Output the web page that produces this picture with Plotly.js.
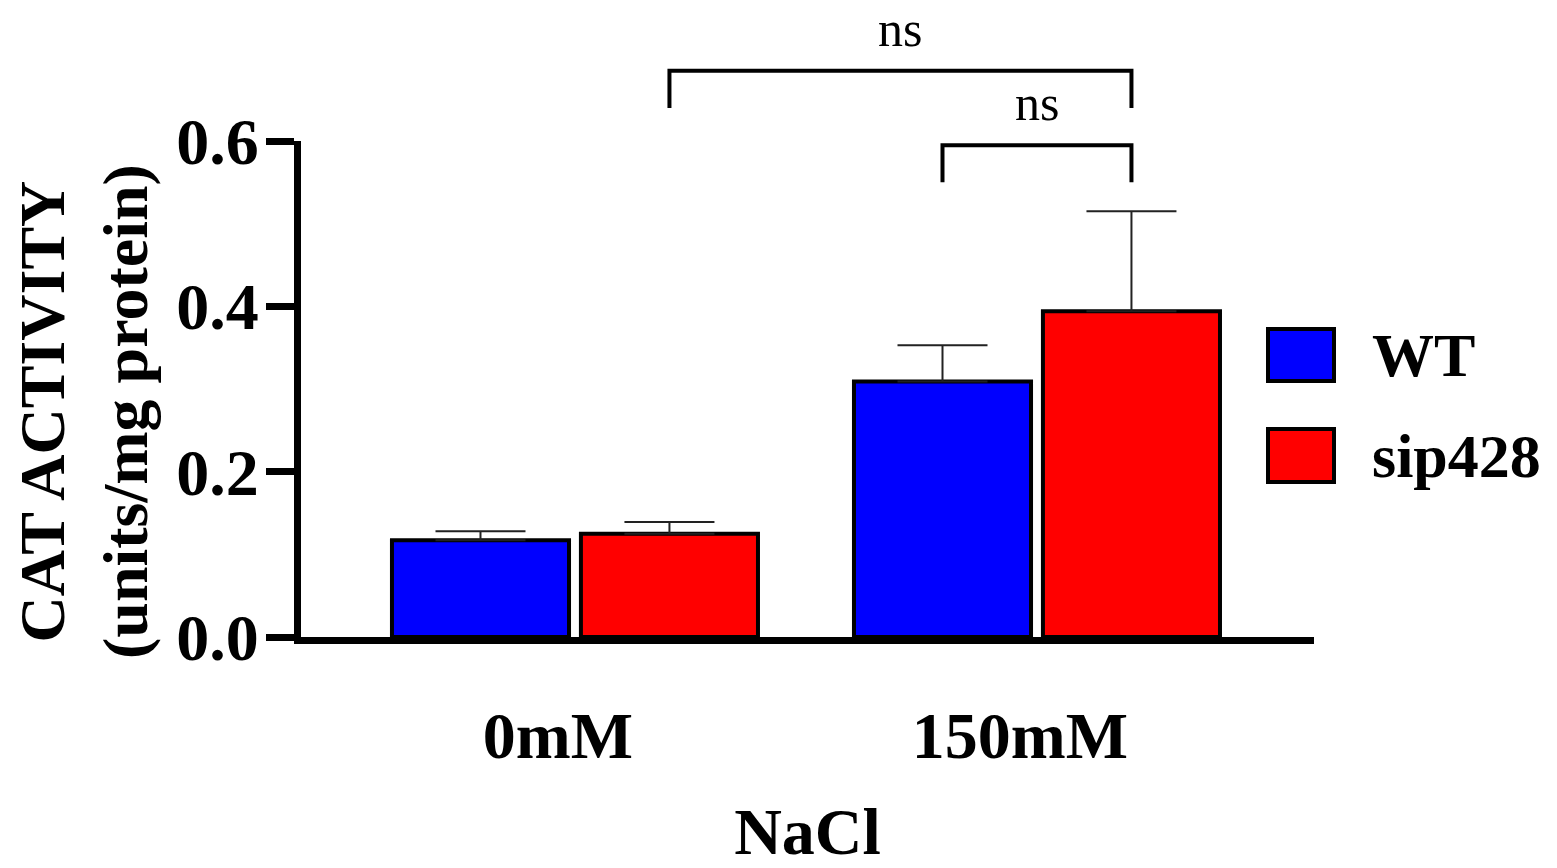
<!DOCTYPE html>
<html><head><meta charset="utf-8">
<script src="https://cdn.plot.ly/plotly-3.0.1.min.js"></script>
<style>html,body{margin:0;padding:0;background:#fff;}#chart{width:1557px;height:868px;}</style>
</head><body><div id="chart"></div>
<script>
// ---- data ----
const categories = ['0mM', '150mM'];
const seriesNames = ['WT', 'sip428'];
const seriesColors = ['#0000FF', '#FF0000'];
const wtMeans = [0.117, 0.309];
const wtSem = [0.011, 0.044];
const sip428Means = [0.125, 0.394];
const sip428Sem = [0.014, 0.121];
const yTickVals = [0, 0.2, 0.4, 0.6];
const yTickText = ['0.0', '0.2', '0.4', '0.6'];
const xTitle = 'NaCl';
const yTitle = 'CAT ACTIVITY<br>(units/mg protein)';
// significance comparisons: [category, series] pairs
const cmpFrom = [[0, 1], [1, 0]];
const cmpTo = [[1, 1], [1, 1]];
const cmpLabel = ['ns', 'ns'];
const cmpLevel = [0.685, 0.595];

// ---- layout constants ----
const W = 1557, H = 868;
const M = {l: 301, r: 243, t: 141, b: 231};
const XR = [-0.593, 1.5996], YR = [0, 0.6];
const BARGAP = 0.182, GROUPGAP = 0.063;
const FONT = 'Liberation Serif, Times New Roman, serif';
const plotW = W - M.l - M.r, plotH = H - M.t - M.b;
const slot = (1 - BARGAP) / seriesNames.length;
const xOf = (cat, s) => cat + (s - (seriesNames.length - 1) / 2) * slot;
const xp = x => (x - XR[0]) / (XR[1] - XR[0]);
const yp = y => (y - YR[0]) / (YR[1] - YR[0]);
const pxX = px => (px - M.l) / plotW;
const pxY = py => (H - M.b - py) / plotH;

const means = [wtMeans, sip428Means];
const sems = [wtSem, sip428Sem];

const traces = seriesNames.map((name, s) => ({
  type: 'bar', name: name, x: categories, y: means[s],
  marker: {color: seriesColors[s], line: {color: '#000', width: 4}},
  error_y: {type: 'data', symmetric: false, array: sems[s], arrayminus: sems[s].map(() => 0),
            color: '#222', thickness: 2, width: 45},
  showlegend: false, hoverinfo: 'skip'
}));

const shapes = [];
const annotations = [];
const drop = 0.045;
cmpFrom.forEach((f, i) => {
  const x0 = xp(xOf(f[0], f[1])), x1 = xp(xOf(cmpTo[i][0], cmpTo[i][1]));
  const yt = yp(cmpLevel[i]), yb = yp(cmpLevel[i] - drop);
  shapes.push({type: 'path', xref: 'paper', yref: 'paper',
    path: `M${x0},${yb} L${x0},${yt} L${x1},${yt} L${x1},${yb}`,
    line: {color: '#000', width: 4}});
  annotations.push({xref: 'paper', yref: 'paper', x: (x0 + x1) / 2, y: yt, yanchor: 'bottom', xanchor: 'center',
    yshift: 13, borderpad: 0, showarrow: false, text: cmpLabel[i], font: {family: FONT, size: 50, color: '#000'}});
});

// legend drawn as boxes + labels
const legBoxes = [[1268, 1334, 329, 381], [1268, 1334, 429, 482]];
seriesNames.forEach((name, s) => {
  const b = legBoxes[s];
  shapes.push({type: 'rect', xref: 'paper', yref: 'paper', x0: pxX(b[0]), x1: pxX(b[1]), y0: pxY(b[3]), y1: pxY(b[2]),
    fillcolor: seriesColors[s], line: {color: '#000', width: 4}});
  annotations.push({xref: 'paper', yref: 'paper', x: pxX(1370), y: pxY((b[2] + b[3]) / 2), xanchor: 'left', yanchor: 'middle',
    showarrow: false, text: name, font: {family: FONT, size: 62, weight: 700, color: '#000'}});
});

annotations.push({xref: 'paper', yref: 'paper', x: pxX(84), y: pxY(412), xanchor: 'center', yanchor: 'middle',
  textangle: -90, showarrow: false, text: yTitle, font: {family: FONT, size: 64, weight: 700, color: '#000'}});

const layout = {
  width: W, height: H, margin: M,
  paper_bgcolor: '#fff', plot_bgcolor: '#fff',
  barmode: 'group', bargap: BARGAP, bargroupgap: GROUPGAP,
  showlegend: false,
  font: {family: FONT, color: '#000'},
  xaxis: {type: 'category', range: XR, showline: true, linewidth: 7, linecolor: '#000', ticks: '',
    showgrid: false, zeroline: false, automargin: false, ticklabelstandoff: 35, ticklabelshift: -17,
    tickfont: {family: FONT, size: 66, weight: 700, color: '#000'},
    title: {text: xTitle, standoff: 55, font: {family: FONT, size: 66, weight: 700, color: '#000'}}},
  yaxis: {range: YR, showline: true, linewidth: 7, linecolor: '#000', ticks: 'outside', ticklen: 28,
    tickwidth: 7, tickcolor: '#000', tickvals: yTickVals, ticktext: yTickText, showgrid: false, zeroline: false,
    automargin: false, ticklabelstandoff: -6, tickfont: {family: FONT, size: 66, weight: 700, color: '#000'}},
  shapes: shapes, annotations: annotations
};
Plotly.newPlot('chart', traces, layout, {staticPlot: true, displayModeBar: false});
</script></body></html>
